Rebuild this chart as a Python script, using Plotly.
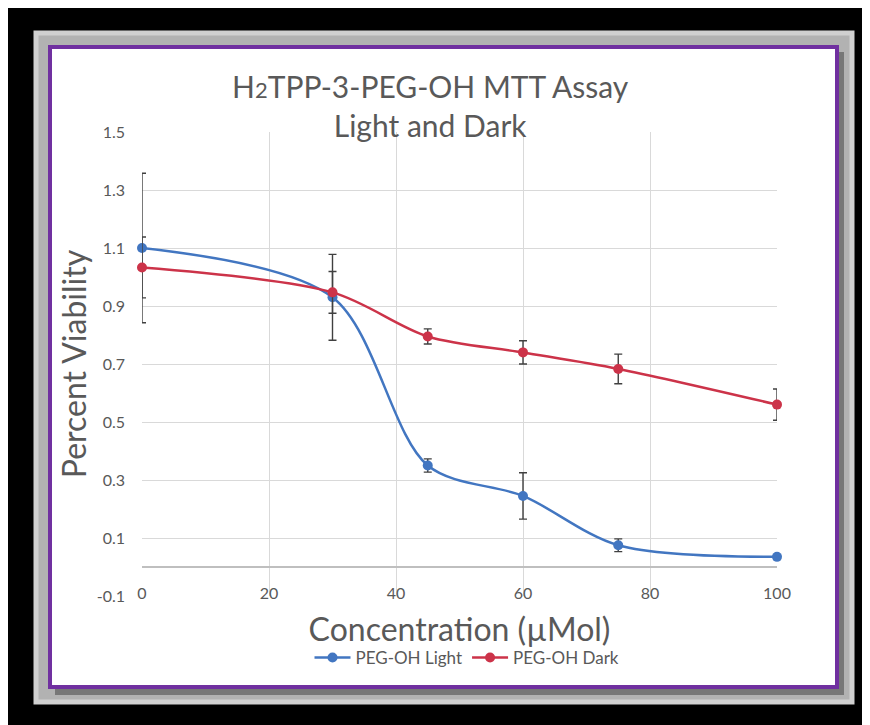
import plotly.graph_objects as go

# ---- data ----
concentration = [0, 30, 45, 60, 75, 100]
light_values = [1.10, 0.93, 0.35, 0.245, 0.075, 0.035]
light_errors = [0.258, 0.148, 0.023, 0.08, 0.022, 0.0]
dark_values = [1.033, 0.947, 0.795, 0.74, 0.683, 0.56]
dark_errors = [0.105, 0.072, 0.026, 0.04, 0.051, 0.054]
y_tick_vals = [1.5, 1.3, 1.1, 0.9, 0.7, 0.5, 0.3, 0.1, -0.1]
y_tick_text = ["1.5", "1.3", "1.1", "0.9", "0.7", "0.5", "0.3", "0.1", "-0.1"]
x_tick_vals = [0, 20, 40, 60, 80, 100]
x_tick_text = ["0", "20", "40", "60", "80", "100"]

OFF = 8                      # page body margin
W, H = 870 - OFF, 725 - OFF
L, R, T, B = 142, 777, 132, 596   # plot area in screen pixels


def px(x):
    return (x - L) / (R - L)


def py(y):
    return (B - y) / (B - T)


FONT = "Lato"
GREY = "#595959"
BLUE = "#4276c1"
RED = "#cc3349"

fig = go.Figure()
fig.add_trace(go.Scatter(
    x=concentration, y=light_values, name="PEG-OH Light",
    mode="lines+markers", line=dict(color=BLUE, width=2.5, shape="spline", smoothing=0.9),
    marker=dict(color=BLUE, size=10),
    error_y=dict(type="data", array=light_errors, color="#404040", thickness=1.4, width=4),
    cliponaxis=False,
))
fig.add_trace(go.Scatter(
    x=concentration, y=dark_values, name="PEG-OH Dark",
    mode="lines+markers", line=dict(color=RED, width=2.5, shape="spline", smoothing=0.9),
    marker=dict(color=RED, size=10),
    error_y=dict(type="data", array=dark_errors, color="#404040", thickness=1.4, width=4),
    cliponaxis=False,
))

shapes = [
    # grey frame
    dict(type="rect", xref="paper", yref="paper", x0=px(36), x1=px(852), y0=py(33), y1=py(702),
         fillcolor="#b2b2b2", line=dict(color="#d0d0d0", width=5), layer="below"),
    # shadow
    dict(type="rect", xref="paper", yref="paper", x0=px(55), x1=px(844), y0=py(52), y1=py(695),
         fillcolor="#5e5e5e", opacity=0.7, line=dict(width=0), layer="below"),
    # purple bordered card
    dict(type="rect", xref="paper", yref="paper", x0=px(50), x1=px(837), y0=py(47), y1=py(687),
         fillcolor="white", line=dict(color="#7030a0", width=4), layer="below"),
]

fig.update_layout(
    width=W, height=H,
    margin=dict(l=L - OFF, r=W - (R - OFF), t=T - OFF, b=H - (B - OFF), pad=0),
    paper_bgcolor="black", plot_bgcolor="white",
    font=dict(family=FONT, color=GREY),
    showlegend=True,
    legend=dict(orientation="h", x=px(467), xanchor="center", y=py(658), yanchor="middle",
                font=dict(size=17, color=GREY), bgcolor="rgba(0,0,0,0)", itemwidth=36),
    shapes=shapes,
    annotations=[dict(
        text="H<span style='font-size:22px'>2</span>TPP-3-PEG-OH MTT Assay<br>Light and Dark",
        xref="paper", yref="paper", x=px(430), y=py(106), xanchor="center", yanchor="middle",
        showarrow=False, font=dict(size=30, color=GREY, family=FONT),
    )],
    xaxis=dict(
        range=[0, 100], tickvals=x_tick_vals, ticktext=x_tick_text,
        showgrid=True, gridcolor="#d9d9d9", gridwidth=1, zeroline=False,
        showline=False, ticks="", tickfont=dict(size=16, color=GREY),
        ticklabelstandoff=-14,
        title=dict(text="Concentration (µMol)", font=dict(size=32, color=GREY), standoff=17),
    ),
    yaxis=dict(
        range=[-0.1, 1.5], tickvals=y_tick_vals, ticktext=y_tick_text,
        showgrid=True, gridcolor="#d9d9d9", gridwidth=1,
        zeroline=True, zerolinecolor="#bfbfbf", zerolinewidth=1.5,
        showline=False, ticks="", tickfont=dict(size=16, color=GREY),
        ticklabelstandoff=16,
        title=dict(text="Percent Viability", font=dict(size=32, color=GREY), standoff=0),
    ),
)

fig.write_html("out.html")
